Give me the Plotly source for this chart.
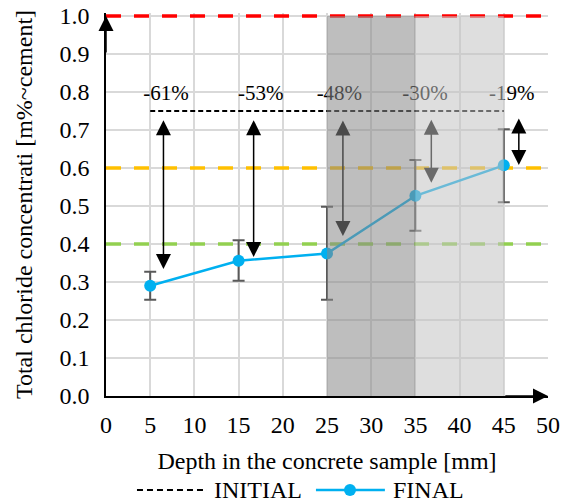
import plotly.graph_objects as go

# ---- data ----
depth = [5, 15, 25, 35, 45]
final = [0.290, 0.356, 0.375, 0.527, 0.607]
final_high = [0.327, 0.410, 0.498, 0.621, 0.702]
final_low = [0.253, 0.303, 0.253, 0.435, 0.510]

initial_x = [5, 45]
initial_y = [0.75, 0.75]

ref_levels = [1.0, 0.6, 0.4]
ref_colors = ["#FF0000", "#FFC000", "#92D050"]

arrow_x = [6.5, 16.7, 26.8, 36.8, 46.7]
arrow_top = [0.730, 0.730, 0.729, 0.731, 0.734]
arrow_bottom = [0.334, 0.366, 0.421, 0.561, 0.608]
arrow_colors = ["#000000", "#000000", "#4a4a4a", "#6a6a6a", "#000000"]

pct_labels = ["-61%", "-53%", "-48%", "-30%", "-19%"]
pct_x = [6.8, 17.5, 26.4, 36.1, 45.9]
pct_y = [0.792, 0.792, 0.792, 0.792, 0.792]

band_x0 = [25, 35]
band_x1 = [35, 45]
band_colors = ["rgba(137,137,137,0.55)", "rgba(195,195,195,0.55)"]

x_ticks = list(range(0, 55, 5))
y_ticks = [round(i * 0.1, 1) for i in range(11)]

legend_names = ["INITIAL", "FINAL"]

FONT = "Liberation Serif"
FS = 24
FS_PCT = 21
BLUE = "#00B0F0"

fig = go.Figure()

# reference levels (not in legend)
for lvl, col in zip(ref_levels, ref_colors):
    fig.add_trace(go.Scatter(x=[0, 50], y=[lvl, lvl], mode="lines",
                             line=dict(color=col, width=3.5, dash="15px,13px"),
                             showlegend=False, hoverinfo="skip"))

fig.add_trace(go.Scatter(x=initial_x, y=initial_y, mode="lines", name=legend_names[0],
                         line=dict(color="black", width=2, dash="5px,3px"),
                         showlegend=False))

fig.add_trace(go.Scatter(
    x=depth, y=final, mode="lines+markers", name=legend_names[1],
    line=dict(color=BLUE, width=2.5),
    marker=dict(color=BLUE, size=12),
    showlegend=False,
    error_y=dict(type="data", symmetric=False,
                 array=[h - v for h, v in zip(final_high, final)],
                 arrayminus=[v - l for v, l in zip(final, final_low)],
                 color="#595959", thickness=2, width=6)))

fig.add_trace(go.Scatter(x=pct_x, y=pct_y, mode="text", text=pct_labels,
                         textfont=dict(family=FONT, size=FS_PCT, color="black"),
                         showlegend=False, hoverinfo="skip"))

shapes = []
for x0, x1, c in zip(band_x0, band_x1, band_colors):
    shapes.append(dict(type="rect", xref="x", yref="y", x0=x0, x1=x1, y0=0, y1=1.0,
                       fillcolor=c, line=dict(width=0), layer="above"))

annotations = []
for xa, yt, yb, c in zip(arrow_x, arrow_top, arrow_bottom, arrow_colors):
    annotations.append(dict(x=xa, y=yb, ax=xa, ay=yt, xref="x", yref="y",
                            axref="x", ayref="y", text="", showarrow=True,
                            arrowhead=2, startarrowhead=2, arrowside="end+start",
                            arrowsize=2, startarrowsize=2, arrowwidth=1.5,
                            arrowcolor=c, standoff=0, startstandoff=0))
# axis arrows
annotations.append(dict(x=0, y=1.0, ax=0, ay=0.9, xref="x", yref="y", axref="x", ayref="y",
                        text="", showarrow=True, arrowhead=2, arrowsize=2, arrowwidth=1.5,
                        arrowcolor="black", standoff=0))
annotations.append(dict(x=50, y=0, ax=45, ay=0, xref="x", yref="y", axref="x", ayref="y",
                        text="", showarrow=True, arrowhead=2, arrowsize=2, arrowwidth=1.5,
                        arrowcolor="black", standoff=0))

# legend drawn below the axis (paper coordinates)
LEG_Y = -0.2454
shapes.append(dict(type="line", xref="paper", yref="paper", x0=0.0701, x1=0.2285,
                   y0=LEG_Y, y1=LEG_Y, line=dict(color="black", width=2, dash="6px,4px")))
shapes.append(dict(type="line", xref="paper", yref="paper", x0=0.475, x1=0.631,
                   y0=LEG_Y, y1=LEG_Y, line=dict(color=BLUE, width=2.5)))
shapes.append(dict(type="circle", xref="paper", yref="paper", xsizemode="pixel",
                   ysizemode="pixel", xanchor=0.552, yanchor=LEG_Y,
                   x0=-6, x1=6, y0=-6, y1=6, fillcolor=BLUE, line=dict(color=BLUE, width=0)))
annotations.append(dict(xref="paper", yref="paper", x=0.240, y=LEG_Y, text=legend_names[0],
                        showarrow=False, xanchor="left", yanchor="middle",
                        font=dict(family=FONT, size=FS, color="black")))
annotations.append(dict(xref="paper", yref="paper", x=0.645, y=LEG_Y, text=legend_names[1],
                        showarrow=False, xanchor="left", yanchor="middle",
                        font=dict(family=FONT, size=FS, color="black")))

fig.update_layout(
    width=571, height=504,
    margin=dict(l=106, r=23, t=13, b=108, autoexpand=False),
    paper_bgcolor="white", plot_bgcolor="white",
    font=dict(family=FONT, size=FS, color="black"),
    shapes=shapes, annotations=annotations,
    showlegend=False,
    xaxis=dict(range=[0, 50], tickvals=x_ticks, ticktext=[str(v) for v in x_ticks],
               showgrid=True, gridcolor="#d9d9d9", gridwidth=1.5,
               showline=True, linecolor="black", linewidth=1.5, ticks="",
               zeroline=False, automargin=False, ticklabelstandoff=6,
               tickfont=dict(family=FONT, size=FS),
               title=dict(text="Depth in the concrete sample [mm]", standoff=16,
                          font=dict(family=FONT, size=FS))),
    yaxis=dict(range=[0, 1.008], tickvals=y_ticks, ticktext=[f"{v:.1f}" for v in y_ticks],
               showgrid=True, gridcolor="#d9d9d9", gridwidth=1.5,
               showline=True, linecolor="black", linewidth=1.5, ticks="",
               zeroline=False, automargin=False, ticklabelstandoff=10,
               tickfont=dict(family=FONT, size=FS),
               title=dict(text="Total chloride concentrati [m%~cement]", standoff=20,
                          font=dict(family=FONT, size=FS))),
)

fig.write_html("out.html", config={"displayModeBar": False},
               post_script="document.body.style.margin='0px';")
